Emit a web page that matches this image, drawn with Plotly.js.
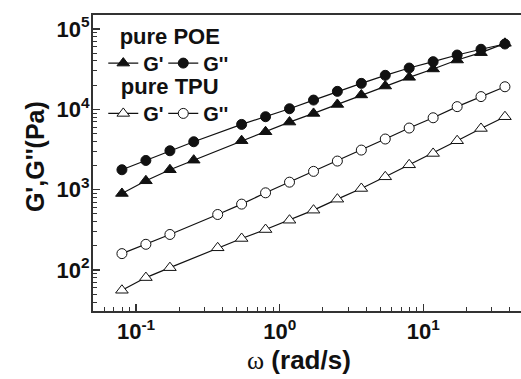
<!DOCTYPE html>
<html><head><meta charset="utf-8">
<script src="https://cdn.plot.ly/plotly-3.0.1.min.js"></script>
<style>html,body{margin:0;padding:0;background:#fff;}</style>
</head><body>
<div id="chart" style="width:521px;height:379px;"></div>
<script>
// angular frequency (rad/s)
const omegaPOE = [0.0797, 0.117, 0.172, 0.252, 0.543, 0.797, 1.17, 1.72, 2.52, 3.70, 5.43, 7.97, 11.7, 17.2, 25.2, 37.0];
const omegaTPU = [0.0797, 0.117, 0.172, 0.370, 0.543, 0.797, 1.17, 1.72, 2.52, 3.70, 5.43, 7.97, 11.7, 17.2, 25.2, 37.0];
// pure POE (Pa)
const poeGstorage = [897, 1290, 1770, 2330, 4070, 5260, 6940, 8890, 11500, 15100, 19500, 25000, 31800, 41100, 50700, 66300];
const poeGloss    = [1770, 2310, 3050, 3950, 6490, 8090, 10170, 13040, 16730, 21040, 26500, 32650, 39200, 47400, 55900, 65000];
// pure TPU (Pa)
const tpuGstorage = [56, 80.5, 107, 189, 247, 319, 417, 556, 762, 1035, 1446, 2040, 2825, 4065, 5780, 8090];
const tpuGloss    = [160, 209, 277, 491, 661, 914, 1240, 1690, 2270, 3110, 4270, 5850, 7850, 10800, 14400, 19100];

// tick labels
const xTickVals = [0.1, 1, 10];
const xTickText = ["10<sup>-1</sup>", "10<sup>0</sup>", "10<sup>1</sup>"];
const yTickVals = [100, 1000, 10000, 100000];
const yTickText = ["10<sup>2</sup>", "10<sup>3</sup>", "10<sup>4</sup>", "10<sup>5</sup>"];

const legendTitles = ["pure POE", "pure TPU"];
const seriesNames = ["G'", "G''"];
const xTitle = "<span style='font-family:Liberation Serif,Times New Roman,serif;font-weight:normal'>ω</span> (rad/s)";
const yTitle = "G',G''(Pa)";

const FONT = "Liberation Sans, Arial, Helvetica, sans-serif";
const bold = (s) => ({family: FONT, size: s, color: "#111", weight: "bold"});

function tr(x, y, name, symbol, fill, legend, lw) {
  return {
    type: "scatter", mode: "lines+markers", x: x, y: y, name: name, legend: legend,
    legendwidth: lw,
    line: {color: "#111", width: 1.2},
    marker: {symbol: symbol, size: symbol.indexOf("triangle") === 0 ? 11 : 10, color: fill,
             line: {color: "#111", width: 1}}
  };
}

const data = [
  tr(omegaPOE, poeGstorage, seriesNames[0], "triangle-up", "#111", "legend", 15),
  tr(omegaPOE, poeGloss, seriesNames[1], "circle", "#111", "legend", 28),
  tr(omegaTPU, tpuGstorage, seriesNames[0], "triangle-up", "#fff", "legend2", 15),
  tr(omegaTPU, tpuGloss, seriesNames[1], "circle", "#fff", "legend2", 28)
];

const axisCommon = {
  type: "log", tickmode: "array", showgrid: false, zeroline: false,
  ticks: "inside", ticklen: 7, tickwidth: 1.5, tickcolor: "#333",
  linecolor: "#333", linewidth: 2, showline: true,
  tickfont: bold(22),
  minor: {ticks: "inside", ticklen: 4, tickwidth: 1, tickcolor: "#333", dtick: "D1", showgrid: false}
};

function legendDef(title, y) {
  return {
    x: 0.024, y: y, xanchor: "left", yanchor: "top", orientation: "h",
    bgcolor: "rgba(0,0,0,0)", font: bold(20), itemwidth: 30,
    entrywidthmode: "pixels",
    title: {text: title, side: "top center", font: bold(22)}
  };
}

const layout = {
  width: 521, height: 379,
  margin: {l: 93, r: 0, t: 15, b: 68},
  paper_bgcolor: "#fff", plot_bgcolor: "#fff",
  showlegend: true,
  xaxis: Object.assign({}, axisCommon, {
    range: [-1.30, 1.68], mirror: true, tickvals: xTickVals, ticktext: xTickText
  }),
  yaxis: Object.assign({}, axisCommon, {
    range: [1.49, 5.174], mirror: false, tickvals: yTickVals, ticktext: yTickText,
    ticklabelstandoff: -3
  }),
  legend: legendDef(legendTitles[0], 1.0),
  legend2: legendDef(legendTitles[1], 0.83),
  annotations: [
    {text: xTitle, xref: "paper", yref: "paper", x: 0.481, y: -0.1655, xanchor: "center", yanchor: "middle",
     showarrow: false, font: bold(26)},
    {text: yTitle, xref: "paper", yref: "paper", x: -0.1355, y: 0.52, xanchor: "center", yanchor: "middle",
     textangle: -90, showarrow: false, font: bold(25)}
  ]
};

Plotly.newPlot("chart", data, layout, {displayModeBar: false, staticPlot: true});
</script>
</body></html>
